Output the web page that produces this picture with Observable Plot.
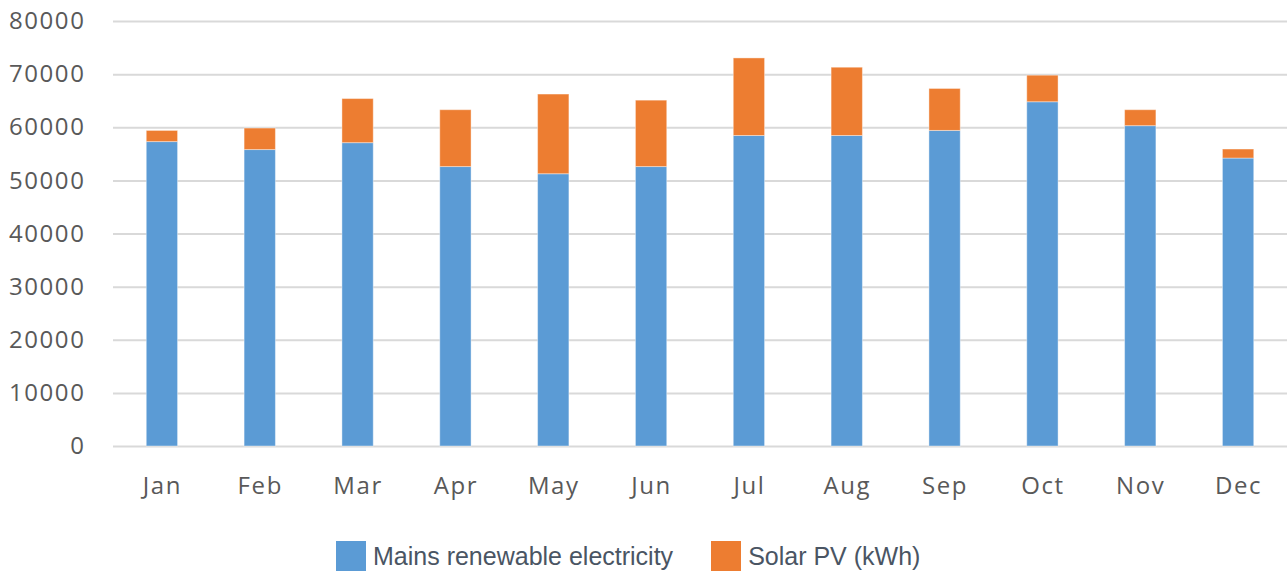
<!DOCTYPE html>
<html>
<head>
<meta charset="utf-8">
<script src="https://cdn.jsdelivr.net/npm/d3@7"></script>
<script src="https://cdn.jsdelivr.net/npm/@observablehq/plot@0.6"></script>
<style>
  html, body { margin: 0; padding: 0; background: #fff; }
  #wrap { position: relative; width: 1287px; height: 571px; overflow: hidden; }
  #legend { position: absolute; top: 541px; left: 336px; display: flex; align-items: center;
    font-family: "Liberation Sans", Arial, sans-serif; font-size: 25px; letter-spacing: 0px; color: #4a5563; }
  .sw { width: 30px; height: 30px; display: inline-block; margin-right: 7px; }
  .item { display: flex; align-items: center; margin-right: 38px; }
</style>
</head>
<body>
<div id="wrap">
  <div id="chart"></div>
  <div id="legend"></div>
</div>
<script>
const months = ["Jan","Feb","Mar","Apr","May","Jun","Jul","Aug","Sep","Oct","Nov","Dec"];
const seriesNames = ["Mains renewable electricity", "Solar PV (kWh)"];
const mains = [57300, 55800, 57100, 52600, 51250, 52600, 58450, 58450, 59400, 64800, 60300, 54200];
const solar = [2100, 4050, 8300, 10700, 15000, 12500, 14600, 12850, 7900, 5000, 3000, 1700];
const colors = ["#5b9bd5", "#ed7d31"];
const yTicks = [0, 10000, 20000, 30000, 40000, 50000, 60000, 70000, 80000];

const data = [];
months.forEach((m, i) => {
  data.push({month: m, series: seriesNames[0], value: mains[i]});
  data.push({month: m, series: seriesNames[1], value: solar[i]});
});

const chart = Plot.plot({
  width: 1287,
  height: 520,
  marginLeft: 113,
  marginRight: 0,
  marginTop: 21,
  marginBottom: 74,
  style: {fontFamily: "'Open Sans', sans-serif", fontSize: "24px", color: "#595959", letterSpacing: "1.6px"},
  x: {domain: months, paddingInner: 0.68, paddingOuter: 0.34, round: false, label: null},
  y: {domain: [0, 80000], ticks: yTicks, label: null},
  color: {domain: seriesNames, range: colors},
  marks: [
    Plot.ruleY(yTicks, {stroke: "#d9d9d9", strokeWidth: 2}),
    Plot.barY(data, {x: "month", y: "value", fill: "series", order: seriesNames, stroke: "#ffffff", strokeOpacity: 0.4, strokeWidth: 1}),
    Plot.axisY({ticks: yTicks, tickSize: 0, tickPadding: 28, tickFormat: d3.format("d"), fill: "#595959", fontSize: 24}),
    Plot.axisX({tickSize: 0, tickPadding: 30, fill: "#595959", fontSize: 24})
  ]
});
document.getElementById("chart").appendChild(chart);

const legend = document.getElementById("legend");
seriesNames.forEach((s, i) => {
  const item = document.createElement("div");
  item.className = "item";
  const sw = document.createElement("span");
  sw.className = "sw";
  sw.style.background = colors[i];
  const t = document.createElement("span");
  t.textContent = s;
  item.appendChild(sw);
  item.appendChild(t);
  legend.appendChild(item);
});
</script>
</body>
</html>
